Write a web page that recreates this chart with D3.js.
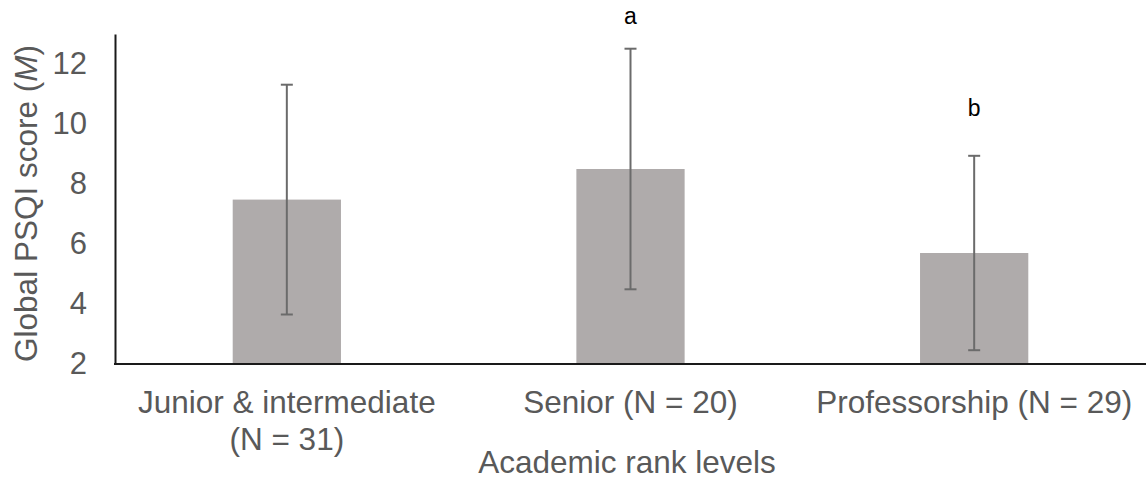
<!DOCTYPE html>
<html>
<head>
<meta charset="utf-8">
<script src="https://cdn.jsdelivr.net/npm/d3@7"></script>
<style>
  html, body { margin: 0; padding: 0; background: #fff; }
  svg { display: block; font-family: "Liberation Sans", Arial, sans-serif; }
</style>
</head>
<body>
<svg id="chart" width="1146" height="481"></svg>
<script>
const categories = [['Junior & intermediate', '(N = 31)'], ['Senior (N = 20)'], ['Professorship (N = 29)']];
const means = [7.48, 8.50, 5.70];
const sds = [3.83, 4.01, 3.24];
const sigLetters = ['', 'a', 'b'];
const yTicks = [2, 4, 6, 8, 10, 12];

const width = 1146, height = 481;
const margin = { top: 34, right: 0, bottom: 117, left: 115 };
const letterGap = [25, 25, 40];  // distance of the letter above the error cap

const svg = d3.select('#chart');

const x = d3.scaleBand()
  .domain(d3.range(categories.length))
  .range([margin.left, width - margin.right]);
const y = d3.scaleLinear()
  .domain([2, 13])
  .range([height - margin.bottom, margin.top]);

const barW = x.bandwidth() * 0.315;
const cx = i => x(i) + x.bandwidth() / 2;

// bars
svg.append('g')
  .selectAll('rect')
  .data(means)
  .join('rect')
    .attr('x', (d, i) => cx(i) - barW / 2)
    .attr('width', barW)
    .attr('y', d => y(d))
    .attr('height', d => y(2) - y(d))
    .attr('fill', '#AFABAB');

// error bars
const err = svg.append('g')
  .attr('stroke', '#6b6b6b')
  .attr('stroke-width', 2);
means.forEach((m, i) => {
  const hi = y(m + sds[i]), lo = y(m - sds[i]);
  err.append('line').attr('x1', cx(i)).attr('x2', cx(i)).attr('y1', hi).attr('y2', lo);
  err.append('line').attr('x1', cx(i) - 6).attr('x2', cx(i) + 6).attr('y1', hi).attr('y2', hi);
  err.append('line').attr('x1', cx(i) - 6).attr('x2', cx(i) + 6).attr('y1', lo).attr('y2', lo);
});

// significance letters
svg.append('g')
  .selectAll('text')
  .data(sigLetters)
  .join('text')
    .attr('x', (d, i) => cx(i))
    .attr('y', (d, i) => y(means[i] + sds[i]) - letterGap[i])
    .attr('text-anchor', 'middle')
    .attr('font-size', 23)
    .attr('fill', '#000')
    .text(d => d);

// y axis
svg.append('g')
  .attr('transform', `translate(${margin.left},0)`)
  .call(d3.axisLeft(y).tickValues(yTicks).tickSize(0).tickPadding(28))
  .call(g => g.select('.domain').attr('stroke', '#1a1a1a').attr('stroke-width', 2))
  .call(g => g.selectAll('.tick text')
    .attr('font-size', 31)
    .attr('fill', '#595959')
    .attr('font-family', '"Liberation Sans", Arial, sans-serif'));

// x axis line
svg.append('line')
  .attr('x1', margin.left - 1)
  .attr('x2', width)
  .attr('y1', y(2))
  .attr('y2', y(2))
  .attr('stroke', '#1a1a1a')
  .attr('stroke-width', 2);

// category labels
const catG = svg.append('g')
  .attr('font-size', 31.5)
  .attr('fill', '#595959')
  .attr('text-anchor', 'middle');
categories.forEach((lines, i) => {
  const t = catG.append('text').attr('x', cx(i)).attr('y', 413);
  lines.forEach((s, j) => {
    t.append('tspan').attr('x', cx(i)).attr('dy', j === 0 ? 0 : 37).text(s);
  });
});

// axis titles
svg.append('text')
  .attr('x', 627)
  .attr('y', 473)
  .attr('text-anchor', 'middle')
  .attr('font-size', 31.5)
  .attr('fill', '#595959')
  .text('Academic rank levels');

const yTitle = svg.append('text')
  .attr('transform', `translate(37,${y(7.35)}) rotate(-90)`)
  .attr('text-anchor', 'middle')
  .attr('font-size', 31.5)
  .attr('fill', '#595959');
yTitle.append('tspan').text('Global PSQI score (');
yTitle.append('tspan').attr('font-style', 'italic').text('M');
yTitle.append('tspan').text(')');
</script>
</body>
</html>
